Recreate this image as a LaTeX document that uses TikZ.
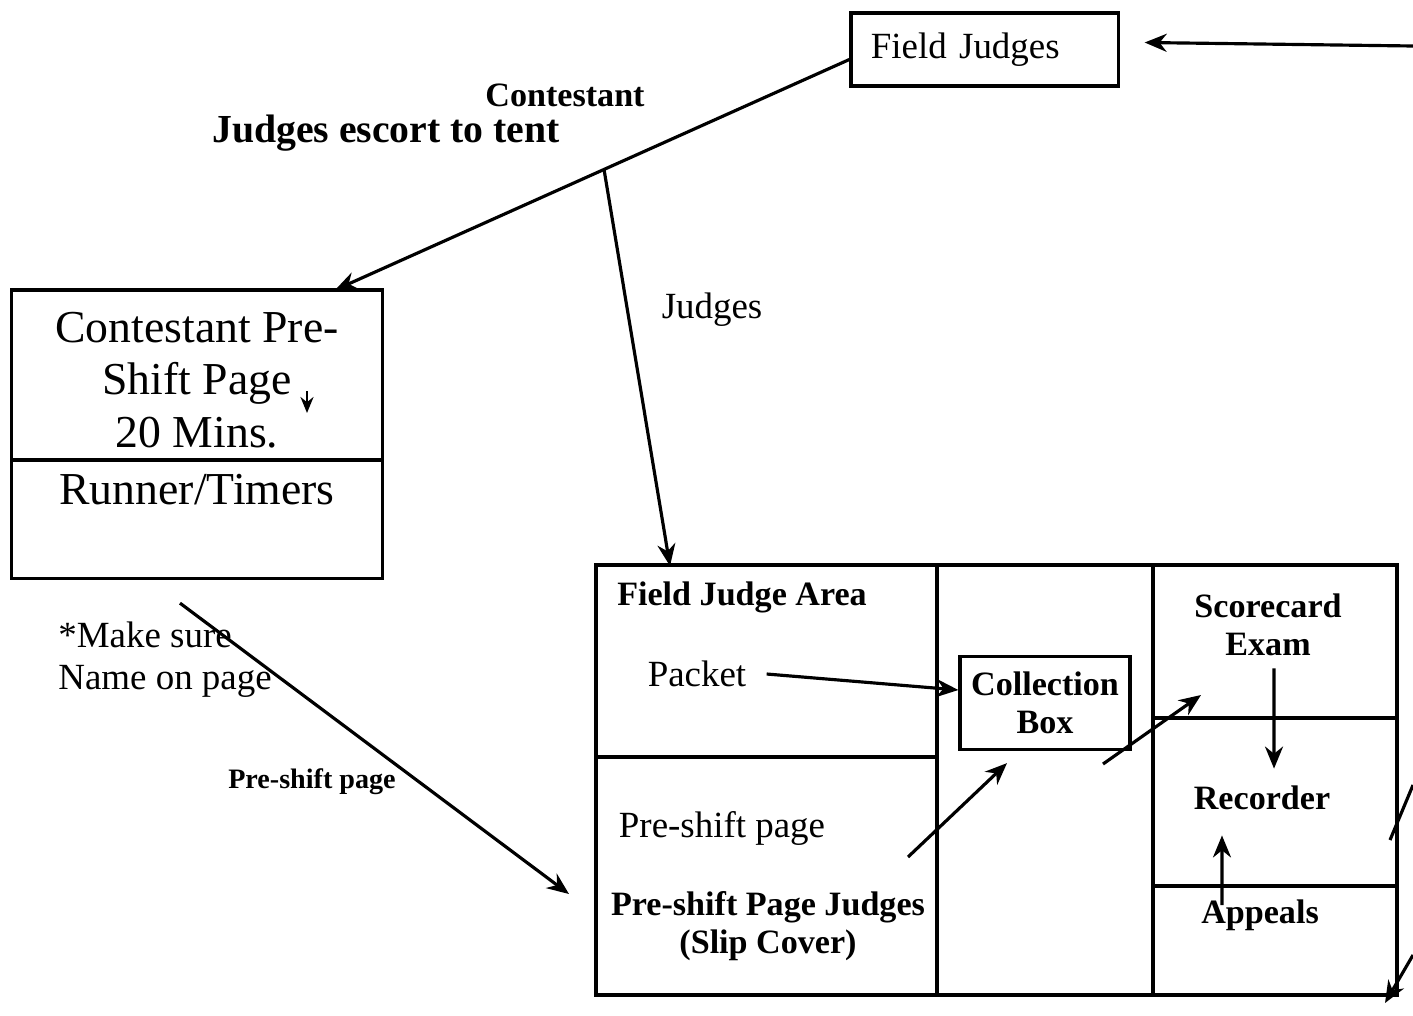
\documentclass[tikz,border=0pt]{standalone}
\usepackage{fontspec}
\setmainfont{Liberation Serif}
\usepackage{tikz}
\usetikzlibrary{arrows.meta,positioning,calc}
\tikzset{
  linkln/.style={-{Stealth[length=2.2mm,width=1.8mm]}, line width=0.9pt},
  wallln/.style={line width=0.9pt},
  reglbl/.style={font=\fontsize{10.5}{12}\selectfont},
  boldlbl/.style={font=\fontsize{9.7}{10.8}\selectfont\bfseries, align=center},
  boxtxt/.style={font=\fontsize{13}{15}\selectfont, align=center},
  boxpart/.style={draw, line width=0.9pt, minimum width=3.7cm, inner sep=0pt, outer sep=0pt},
}

\begin{document}
\begin{tikzpicture}[x=0.01cm, y=-0.01cm]
    \useasboundingbox (0,0) rectangle (1413,1015);
    % field judges
    \node[draw, line width=0.9pt, minimum width=2.67cm, minimum height=0.73cm,
      inner xsep=0.2cm, text width=2.27cm, align=left,
      font=\fontsize{10.5}{12}\selectfont] (fj) at (984.5,49.5) {Field Judges};
    \coordinate (inR) at (1413,46);
    \draw[linkln] (inR) -- ([xshift=0.25cm,yshift=0.07cm]fj.east);
    % contestant box
    \node[boxpart, minimum height=1.7cm] (cpre) at (197,375) {};
    \node[boxtxt] (cpretxt) at (197,380) {Contestant Pre-\\Shift Page\\20 Mins.};
    \node[boxpart, minimum height=1.18cm, anchor=north] (runbox) at (cpre.south) {};
    \node[boxtxt, below=0.02cm of runbox.north] (runner) {Runner/Timers};
    \coordinate (tick) at (307,391);
    \draw[-{Stealth[length=1.6mm,width=1.3mm]}, line width=0.7pt] (tick) -- ++(0,22);
    % escort line
    \coordinate (fjout) at ([yshift=-0.1cm]fj.west);
    \coordinate (cin) at ([xshift=-0.47cm]cpre.north east);
    \draw[linkln] (fjout) -- (cin);
    \coordinate (split) at ($(fjout)!0.477!(cin)$);
    \node[boldlbl] (contlbl) at (565,95) {Contestant};
    \node[boldlbl, font=\fontsize{11.3}{13}\selectfont\bfseries] (escort) at (386,133)
      {Judges escort to tent};
    % big tent
    \draw[wallln] (596,565) rectangle (1397,995);
    \draw[wallln] (937,565) -- (937,995);
    \draw[wallln] (1153,565) -- (1153,995);
    \draw[wallln] (596,757) -- (937,757);
    \draw[wallln] (1153,718) -- (1397,718);
    \draw[wallln] (1153,886) -- (1397,886);
    \coordinate (tentin) at (670,566);
    \draw[linkln] (split) -- (tentin);
    \node[reglbl] (judges) at (712,310) {Judges};
    % pre-shift page
    \node[reglbl, align=left, anchor=west] (makesure) at (46,660)
      {*Make sure\\Name on page};
    \coordinate (psin) at (569,894);
    \draw[linkln] ([xshift=-0.17cm,yshift=-0.25cm]runbox.south) -- (psin);
    \node[boldlbl, font=\fontsize{8}{9}\selectfont\bfseries] (pslbl) at (312,782)
      {Pre-shift page};
    % inside the tent
    \node[boldlbl] (area) at (742,597) {Field Judge Area};
    \node[reglbl] (packet) at (697,674) {Packet};
    \node[draw, line width=0.9pt, boldlbl, minimum width=1.7cm, minimum height=0.93cm,
      inner sep=0pt] (cbox) at (1045,703) {Collection\\Box};
    \draw[linkln] ([xshift=0.08cm]packet.east) -- ([yshift=0.13cm]cbox.west);
    \node[reglbl] (pspage) at (722,828) {Pre-shift page};
    \node[boldlbl] (psjudges) at (768,926) {Pre-shift Page Judges\\(Slip Cover)};
    \coordinate (psout) at (908,857);
    \draw[linkln] (psout) -- ([xshift=-0.38cm,yshift=-0.12cm]cbox.south);
    \node[boldlbl] (score) at (1268,625) {Scorecard\\Exam};
    \coordinate (cout) at (1103,764);
    \coordinate (scin) at (1201,695);
    \draw[linkln] (cout) -- (scin);
    \node[boldlbl] (recorder) at (1262,798) {Recorder};
    \node[boldlbl] (appeals) at (1260,915) {Appeals};
    \draw[linkln] ([xshift=0.06cm]score.south) -- ([xshift=0.12cm,yshift=0.05cm]recorder.north);
    \draw[linkln] ([xshift=-0.38cm,yshift=-0.18cm]appeals.north) -- ([xshift=-0.4cm,yshift=-0.13cm]recorder.south);
    % right side
    \coordinate (r1) at (1413,785);
    \coordinate (r2) at (1390,840);
    \draw[wallln] (r1) -- (r2);
    \coordinate (r3) at (1413,955);
    \coordinate (r4) at (1385,1003);
    \draw[linkln] (r3) -- (r4);
  \end{tikzpicture}
\end{document}
